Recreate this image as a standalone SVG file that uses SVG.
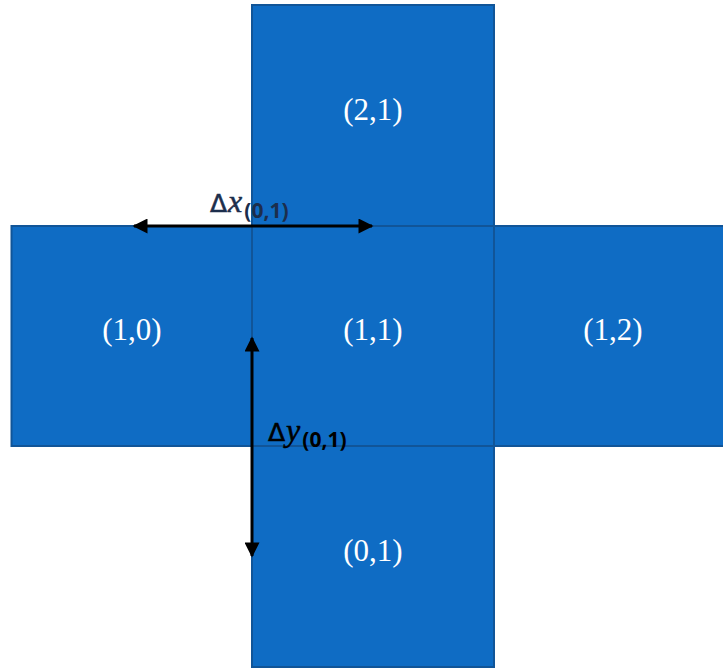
<svg xmlns="http://www.w3.org/2000/svg" width="723" height="669" viewBox="0 0 723 669">
<style>
.cell{fill:#0F6CC4;stroke:#115598;stroke-width:2}
.lbl{font-family:"Liberation Serif","Times New Roman",serif;font-size:31px;fill:#ffffff;text-anchor:middle}
.arr{stroke:#000;stroke-width:3;fill:none}
.d{font-family:"DejaVu Sans","Liberation Sans",sans-serif;font-size:25px;stroke:currentColor;stroke-width:0.6}
.m{font-family:"Liberation Serif",serif;font-style:italic;font-size:32px;stroke:currentColor;stroke-width:0.5}
.s{font-family:"Open Sans","Liberation Sans",sans-serif;font-weight:bold;font-size:21px}
</style>
<defs>
<marker id="ah" viewBox="0 0 10 10" refX="9" refY="5" markerWidth="5.5" markerHeight="5" orient="auto-start-reverse" markerUnits="strokeWidth">
<path d="M0,0 L10,5 L0,10 z" fill="#000"/>
</marker>
</defs>
<g id="n21"><rect class="cell" x="252" y="5" width="242" height="221"/><text class="lbl" x="373" y="120">(2,1)</text></g>
<g id="n10"><rect class="cell" x="11.5" y="226" width="240.5" height="220"/><text class="lbl" x="132" y="340">(1,0)</text></g>
<g id="n12"><rect class="cell" x="494" y="226" width="232" height="220"/><text class="lbl" x="613" y="340">(1,2)</text></g>
<g id="n01"><rect class="cell" x="252" y="446" width="242" height="221"/><text class="lbl" x="373" y="561">(0,1)</text></g>
<g id="n11"><rect class="cell" x="252" y="226" width="242" height="220"/><text class="lbl" x="373" y="340">(1,1)</text></g>
<g id="connectors">
<line class="arr" x1="134" y1="226" x2="372" y2="226" marker-start="url(#ah)" marker-end="url(#ah)"/>
<line class="arr" x1="252" y1="338" x2="252" y2="556" marker-start="url(#ah)" marker-end="url(#ah)"/>
<text x="210" y="212" fill="#1C2E4C" color="#1C2E4C"><tspan class="d">Δ</tspan><tspan class="m" dx="1">x</tspan><tspan class="s" dy="6" dx="2">(0,1)</tspan></text>
<text x="268" y="441" fill="#000" color="#000"><tspan class="d">Δ</tspan><tspan class="m" dx="1">y</tspan><tspan class="s" dy="6" dx="2">(0,1)</tspan></text>
</g>
</svg>
